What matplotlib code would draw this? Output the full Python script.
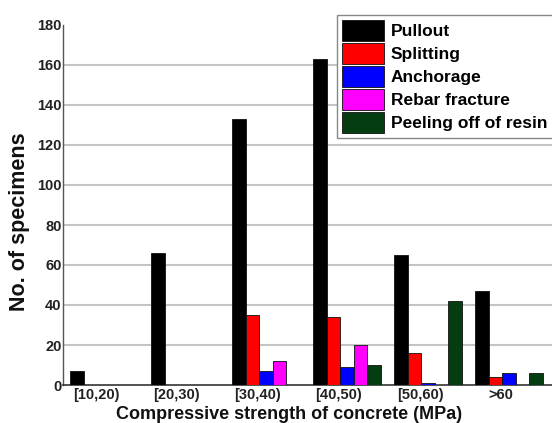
import matplotlib
matplotlib.use("Agg")
import matplotlib.pyplot as plt
import numpy as np

categories = ["[10,20)", "[20,30)", "[30,40)", "[40,50)", "[50,60)", ">60"]
series_names = ["Pullout", "Splitting", "Anchorage", "Rebar fracture", "Peeling off of resin"]
pullout = [7, 66, 133, 163, 65, 47]
splitting = [0, 0, 35, 34, 16, 4]
anchorage = [0, 0, 7, 9, 1, 6]
rebar_fracture = [0, 0, 12, 20, 0, 0]
peeling = [0, 0, 0, 10, 42, 6]
yticks = [0, 20, 40, 60, 80, 100, 120, 140, 160, 180]

series = [pullout, splitting, anchorage, rebar_fracture, peeling]
colors = ["#000000", "#ff0000", "#0000ff", "#ff00ff", "#033d10"]

plt.rcParams['font.family'] = ['Liberation Sans', 'DejaVu Sans']

fig = plt.figure(figsize=(5.52, 4.23), dpi=100)
ax = fig.add_axes([63/552, 38/423, 489/552, 360/423])

x = np.arange(len(categories))
w = 1/6
for j, (vals, name, c) in enumerate(zip(series, series_names, colors)):
    ax.bar(x + (j - 2) * w, vals, width=w, color=c, edgecolor="#111111",
           linewidth=0.6, label=name, zorder=3)

ax.set_xlim(-0.506, 5.53)
ax.set_ylim(0, 180)
ax.set_yticks(yticks)
ax.set_xticks(x - 0.1)
ax.set_xticklabels(categories, fontsize=10.5, fontweight='bold', color="#222222")
for t in ax.get_yticklabels():
    t.set_fontweight('bold')
    t.set_color("#222222")
ax.tick_params(axis='y', labelsize=10.5, length=0, pad=1)
ax.tick_params(axis='x', length=0, pad=2)

ax.yaxis.grid(True, color="#c4c4c4", linewidth=1.5, zorder=0)
gl = ax.get_ygridlines()
gl[0].set_visible(False)
gl[-1].set_visible(False)

for s in ["top", "right"]:
    ax.spines[s].set_visible(False)
ax.spines["left"].set_color("#555555")
ax.spines["bottom"].set_color("#333333")
ax.spines["left"].set_linewidth(1.0)
ax.spines["bottom"].set_linewidth(1.2)

ax.set_xlabel("Compressive strength of concrete (MPa)", fontsize=13, fontweight='bold',
              color="#111111")
ax.xaxis.label.set_va('baseline')
ax.xaxis.set_label_coords((289 - 63) / 489, (385 - 419) / 360)
ax.set_ylabel("No. of specimens", fontsize=15.5, fontweight='bold', color="#111111")
ax.yaxis.label.set_va('center')
ax.yaxis.set_label_coords((20 - 63) / 489, (385 - 222) / 360)

leg = ax.legend(loc="upper left", bbox_to_anchor=(337/552, 1 - 15/423),
                bbox_transform=fig.transFigure,
                prop={'size': 12.5, 'weight': 'bold'}, fancybox=False,
                edgecolor="#888888", framealpha=1, handlelength=2.4,
                handleheight=1.45, labelspacing=0.14, borderpad=0.3,
                handletextpad=0.4, borderaxespad=0)
leg.get_frame().set_linewidth(1.0)

fig.savefig("out.png", dpi=100)
